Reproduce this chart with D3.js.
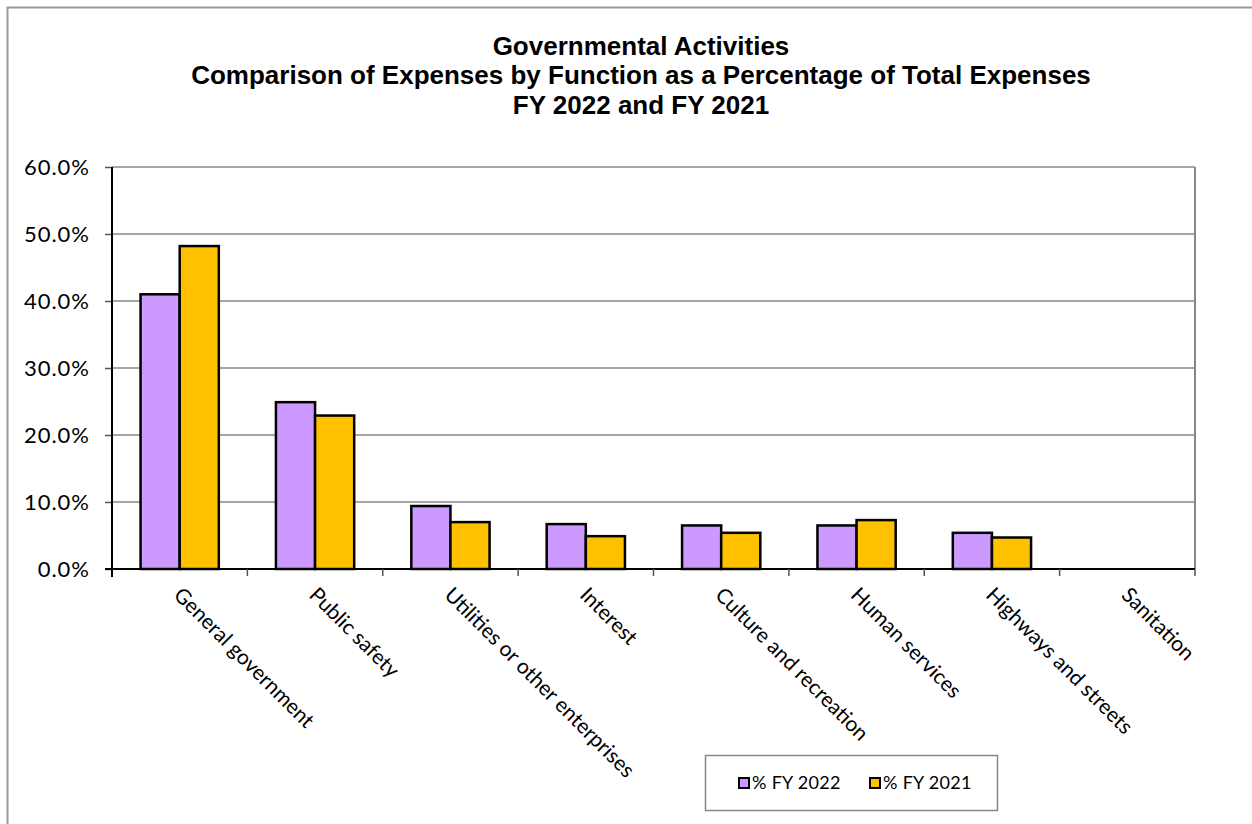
<!DOCTYPE html>
<html><head><meta charset="utf-8">
<script src="https://cdn.jsdelivr.net/npm/d3@7"></script>
<style>body{margin:0;background:#fff}svg{display:block}</style>
</head><body>
<svg id="c" width="1252" height="824"></svg>
<script>
const categories = ["General government","Public safety","Utilities or other enterprises","Interest","Culture and recreation","Human services","Highways and streets","Sanitation"];
const seriesNames = ["% FY 2022","% FY 2021"];
const fy2022 = [41.0, 24.9, 9.4, 6.7, 6.5, 6.5, 5.4, 0];
const fy2021 = [48.2, 22.9, 7.0, 4.9, 5.4, 7.3, 4.7, 0];
const yTicks = [0,10,20,30,40,50,60];
const titleLines = ["Governmental Activities","Comparison of Expenses by Function as a Percentage of Total Expenses","FY 2022 and FY 2021"];
const colors = ["#CC99FF","#FFC000"];

const svg = d3.select("#c");
const L=112, R=1195, T=167, B=569;

// outer frame
svg.append("rect").attr("x",7.5).attr("y",7.5).attr("width",1300).attr("height",900)
  .attr("fill","none").attr("stroke","#999").attr("stroke-width",2);

// title
svg.append("g").selectAll("text").data(titleLines).join("text")
  .attr("x",641).attr("y",(d,i)=>55+i*29.3).attr("text-anchor","middle")
  .attr("font-family","Liberation Sans, Arial, sans-serif").attr("font-weight","bold")
  .attr("font-size",26).attr("fill","#000").text(d=>d);

const x = d3.scaleBand().domain(categories).range([L,R]);
const xs = d3.scaleBand().domain(seriesNames).range([0,x.bandwidth()]).paddingInner(0).paddingOuter(0.73);
const y = d3.scaleLinear().domain([0,60]).range([B,T]);

// gridlines
svg.append("g").selectAll("line").data(yTicks.filter(d=>d>0)).join("line")
  .attr("x1",L).attr("x2",R).attr("y1",d=>y(d)).attr("y2",d=>y(d))
  .attr("stroke","#888").attr("stroke-width",1.5);
// right border
svg.append("line").attr("x1",R).attr("x2",R).attr("y1",T).attr("y2",B).attr("stroke","#888").attr("stroke-width",2);

// bars
const data = categories.map((c,i)=>({c, vals:[fy2022[i],fy2021[i]]}));
const g = svg.append("g").selectAll("g").data(data).join("g").attr("transform",d=>`translate(${x(d.c)},0)`);
g.selectAll("rect").data(d=>d.vals.map((v,j)=>({v,s:seriesNames[j],j}))).join("rect")
  .filter(d=>d.v>0)
  .attr("x",d=>xs(d.s)).attr("width",xs.bandwidth())
  .attr("y",d=>y(d.v)).attr("height",d=>y(0)-y(d.v))
  .attr("fill",d=>colors[d.j]).attr("stroke","#000").attr("stroke-width",2.5);

// y axis
const ya = d3.axisLeft(y).tickValues(yTicks).tickFormat(d=>d3.format(".1f")(d)+"%").tickSize(7).tickPadding(15);
const yg = svg.append("g").attr("transform",`translate(${L},0)`).call(ya);
yg.select(".domain").remove();
yg.selectAll(".tick line").attr("stroke","#555").attr("stroke-width",1.5);
yg.selectAll("text").attr("font-family","Lato, sans-serif").attr("font-size",22)
  .attr("letter-spacing",1).attr("fill","#000");
svg.append("line").attr("x1",L).attr("x2",L).attr("y1",T).attr("y2",B+8).attr("stroke","#000").attr("stroke-width",2);

// x axis
svg.append("line").attr("x1",L-7).attr("x2",R).attr("y1",B).attr("y2",B).attr("stroke","#000").attr("stroke-width",2);
const bounds = categories.map(c=>x(c)).concat([R]);
svg.append("g").selectAll("line").data(bounds.slice(1)).join("line")
  .attr("x1",d=>d).attr("x2",d=>d).attr("y1",B).attr("y2",B+7).attr("stroke","#555").attr("stroke-width",1.5);

svg.append("g").selectAll("text").data(categories).join("text")
  .attr("transform",d=>`translate(${x(d)+x.bandwidth()/2+4},${B+16}) rotate(45)`)
  .attr("dy","0.75em").attr("text-anchor","start")
  .attr("font-family","Lato, sans-serif").attr("font-size",21).attr("fill","#000").text(d=>d);

// legend
const lg = svg.append("g");
lg.append("rect").attr("x",705.5).attr("y",755.5).attr("width",292).attr("height",55)
  .attr("fill","#fff").attr("stroke","#888").attr("stroke-width",1.5);
const items = lg.selectAll("g").data(seriesNames).join("g").attr("transform",(d,i)=>`translate(${739+i*131},783)`);
items.append("rect").attr("x",0).attr("y",-5).attr("width",10).attr("height",10)
  .attr("fill",(d,i)=>colors[i]).attr("stroke","#000").attr("stroke-width",2);
items.append("text").attr("x",13).attr("y",0).attr("dy","0.35em")
  .attr("font-family","Lato, sans-serif").attr("font-size",18).attr("letter-spacing",0.3).attr("fill","#000").text(d=>d);
</script>
</body></html>
